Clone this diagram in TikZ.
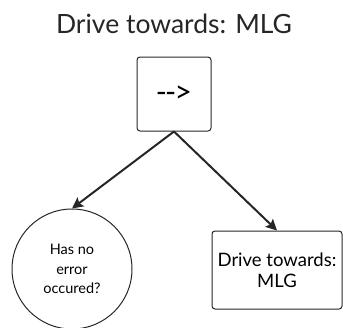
\documentclass[tikz,border=0pt]{standalone}
\usepackage{fontspec}
\setmainfont{Lato}
\usetikzlibrary{arrows.meta}
\begin{document}
\begin{tikzpicture}[x=1pt,y=-1pt,
  box/.style={draw=black!85,line width=1pt,rounded corners=3pt,align=center,inner sep=0pt},
  decision/.style={draw=black!85,line width=1pt,circle,align=center,inner sep=0pt},
  link/.style={draw=black!85,line width=2pt,-{Stealth[length=11pt,width=11pt,inset=2pt]}}]
  \useasboundingbox (0,0) rectangle (343,327);
  \node[font=\fontsize{26.5}{30}\selectfont,text=black!85] (title) at (174,24) {Drive towards: MLG};
  \node[box,minimum width=74pt,minimum height=74pt,font=\fontsize{30}{34}\selectfont] (seq) at (174,94) {-\kern-2pt-\kern-1.5pt>};
  \node[decision,minimum size=120pt,font=\fontsize{14.5}{19.5}\selectfont] (cond) at (72,269) {Has no\\error\\occured?};
  \node[box,minimum width=130pt,minimum height=78pt,font=\fontsize{18.5}{21}\selectfont] (act) at (277,270) {Drive towards:\\MLG};
  \draw[link] (seq.south) -- (cond.north);
  \draw[link] (seq.south) -- (act.north);
\end{tikzpicture}
\end{document}
